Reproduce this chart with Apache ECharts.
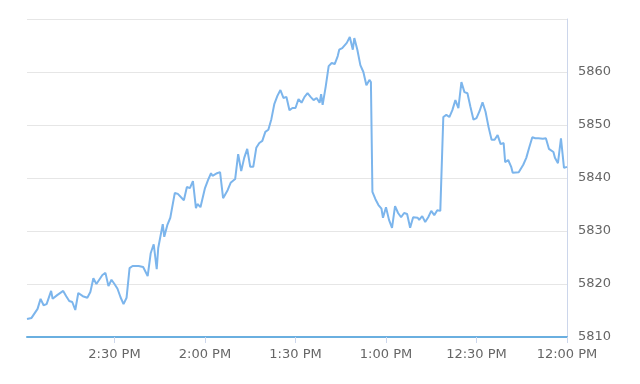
<!DOCTYPE html>
<html>
<head>
<meta charset="utf-8">
<script src="https://cdn.jsdelivr.net/npm/echarts@6/dist/echarts.min.js"></script>
<style>
html,body{margin:0;padding:0;background:#fff;}
#chart{width:640px;height:384px;}
</style>
</head>
<body>
<div id="chart"></div>
<script>
// Time of each sample (clock time, PM) and the price at that time
var times = [
  "12:00","12:01","12:02","12:03","12:04","12:04:30","12:06","12:07","12:08","12:09:30",
  "12:10:30","12:11:30","12:12:30","12:13:30","12:14:30","12:16","12:16:30","12:18","12:18:30","12:19:30",
  "12:20:30","12:21","12:22","12:23","12:24","12:25","12:26","12:27","12:28","12:29",
  "12:30","12:31","12:32","12:33","12:34","12:35","12:36","12:37","12:38","12:39",
  "12:40","12:41","12:42","12:43","12:44","12:45","12:46","12:47","12:48","12:49",
  "12:49:30","12:51","12:52","12:53","12:54","12:55","12:56","12:57","12:58","12:59",
  "13:00","13:01","13:01:30","13:02:30","13:03:30","13:04:30","13:05","13:05:30","13:06:30","13:07:30",
  "13:08:30","13:09:30","13:10:30","13:11","13:12","13:13","13:14:30","13:15:30","13:16","13:17",
  "13:18","13:19","13:20","13:21","13:21:30","13:22","13:23","13:24","13:25","13:25:30",
  "13:26","13:27","13:28","13:29","13:30","13:31","13:32","13:33","13:34","13:35",
  "13:36","13:37","13:38","13:39","13:40","13:41","13:42","13:43","13:44","13:45",
  "13:46","13:47","13:48","13:49","13:50","13:51:30","13:52:30","13:54","13:55","13:56",
  "13:57:30","13:58","13:59","14:00","14:01:30","14:02:30","14:03","14:04","14:05","14:06",
  "14:07","14:07:30","14:09","14:10","14:11:30","14:12:30","14:13:30","14:14","14:15:30","14:16",
  "14:17","14:18","14:19","14:20:30","14:22","14:24","14:25","14:26","14:27","14:28",
  "14:29","14:30","14:31","14:32","14:33","14:34","14:36","14:37","14:38","14:39",
  "14:40:30","14:42","14:43","14:44","14:45","14:46","14:47","14:47:30","14:49","14:50:30",
  "14:51","14:52:30","14:53:30","14:54:30","14:55:30","14:56","14:57:30","14:58","14:59"
];
var prices = [
  5842.1,5841.9,5847.5,5842.8,5843.8,5844.9,5845.5,5847.5,5847.4,5847.5,
  5847.5,5847.7,5845.8,5843.8,5842.5,5841.1,5841.1,5841.0,5842.1,5843.4,
  5843.0,5846.6,5846.4,5848.1,5847.2,5847.2,5849.6,5852.5,5854.3,5852.6,
  5851.3,5851.0,5853.4,5856.0,5856.2,5858.1,5853.2,5854.7,5852.8,5851.5,
  5851.9,5851.5,5833.8,5833.9,5833.0,5833.8,5832.6,5831.7,5832.8,5832.1,
  5832.5,5832.6,5830.6,5833.2,5833.4,5832.6,5833.4,5834.7,5830.6,5832.1,
  5834.5,5832.5,5834.2,5834.9,5836.0,5837.4,5858.1,5858.5,5857.5,5860.0,
  5861.3,5864.2,5866.4,5864.2,5866.6,5865.5,5864.5,5864.2,5863.0,5861.5,
  5861.7,5861.1,5857.2,5853.8,5855.8,5854.2,5855.1,5854.7,5855.3,5855.1,
  5856.0,5855.3,5854.2,5854.9,5853.2,5853.2,5852.8,5855.3,5855.1,5856.6,
  5855.5,5854.0,5851.1,5849.1,5848.7,5847.0,5846.6,5845.7,5842.1,5842.1,
  5845.5,5843.8,5841.3,5844.5,5839.8,5839.1,5837.7,5836.2,5841.1,5840.9,
  5840.4,5840.9,5839.6,5838.1,5834.5,5835.1,5834.3,5839.4,5838.1,5838.3,
  5835.8,5835.7,5837.0,5837.2,5832.5,5831.1,5828.9,5831.3,5826.8,5822.8,
  5827.5,5825.8,5821.5,5823.2,5823.4,5823.4,5823.0,5817.4,5816.2,5817.5,
  5819.1,5820.0,5820.8,5819.6,5822.1,5821.7,5820.0,5821.1,5818.5,5817.4,
  5817.7,5818.3,5815.1,5816.6,5816.8,5817.7,5818.7,5818.7,5817.9,5817.2,
  5818.7,5816.2,5816.0,5817.2,5815.3,5815.1,5813.6,5813.8,5813.4
];
var tickTimes = ["12:00","12:30","13:00","13:30","14:00","14:30"];
var tickLabels = ["12:00 PM","12:30 PM","1:00 PM","1:30 PM","2:00 PM","2:30 PM"];
var axisStartTime = "12:00";
var axisEndTime = "14:59";
var yMin = 5810, yMax = 5870, yStep = 10;

function toMinutes(t) {
  var p = t.split(":");
  var h = +p[0], m = +p[1], s = p.length > 2 ? +p[2] : 0;
  return (h - 12) * 60 + m + s / 60;
}
var tickMinutes = tickTimes.map(toMinutes);
var data = times.map(function (t, i) { return [toMinutes(t), prices[i]]; });

var chart = echarts.init(document.getElementById('chart'), null, {renderer: 'canvas'});
var labelFont = {color: '#666666', fontSize: 13, fontFamily: 'DejaVu Sans'};
chart.setOption({
  animation: false,
  backgroundColor: '#ffffff',
  grid: {left: 27, right: 73, top: 19, bottom: 47, containLabel: false, outerBoundsMode: 'none'},
  xAxis: {
    type: 'value',
    inverse: true,
    min: toMinutes(axisStartTime),
    max: toMinutes(axisEndTime),
    interval: 30,
    axisLine: {show: true, lineStyle: {color: '#6aafe0', width: 2}},
    axisTick: {show: true, length: 6, customValues: tickMinutes, lineStyle: {color: '#ccd6eb'}},
    splitLine: {show: false},
    axisLabel: Object.assign({
      margin: 11,
      customValues: tickMinutes,
      formatter: function (v) {
        var i = tickMinutes.indexOf(v);
        return i >= 0 ? tickLabels[i] : '';
      }
    }, labelFont)
  },
  yAxis: {
    type: 'value',
    position: 'right',
    min: yMin,
    max: yMax,
    interval: yStep,
    axisLine: {show: true, lineStyle: {color: '#ccd6eb', width: 1}},
    axisTick: {show: false},
    splitLine: {show: true, lineStyle: {color: '#e6e6e6', width: 1}},
    axisLabel: Object.assign({
      margin: 11,
      showMaxLabel: false,
      formatter: function (v) { return v === yMax ? '' : String(v); }
    }, labelFont)
  },
  series: [{
    type: 'line',
    data: data,
    showSymbol: false,
    symbol: 'none',
    smooth: false,
    lineStyle: {color: '#7cb5ec', width: 2},
    z: 3
  }]
});
</script>
</body>
</html>
